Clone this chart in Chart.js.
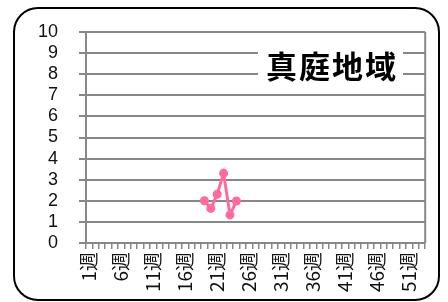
<!DOCTYPE html>
<html>
<head>
<meta charset="utf-8">
<script src="https://cdn.jsdelivr.net/npm/chart.js@4"></script>
<style>
  html, body { margin: 0; padding: 0; background: #fff; }
  #wrap { width: 448px; height: 302px; }
</style>
</head>
<body>
<div id="wrap"><canvas id="chart" width="448" height="302"></canvas></div>
<script>
const TITLE = "真庭地域";
const WEEKS = Array.from({ length: 53 }, (_, i) => (i + 1) + "週");
const SHOWN_LABELS = ["1週", "6週", "11週", "16週", "21週", "26週", "31週", "36週", "41週", "46週", "51週"];
// values per week (null = no data)
const VALUES = [
  null, null, null, null, null, null, null, null, null, null,
  null, null, null, null, null, null, null, null, 2.0, 1.64,
  2.31, 3.3, 1.33, 1.99, null, null, null, null, null, null,
  null, null, null, null, null, null, null, null, null, null,
  null, null, null, null, null, null, null, null, null, null,
  null, null, null,
];
const Y_TICKS = [0, 1, 2, 3, 4, 5, 6, 7, 8, 9, 10];

const GRID = "#878787";
const PINK = "#ff6b9c";

// rounded outer frame + boxed title inside the plot
const decor = {
  id: "decor",
  beforeDraw(chart) {
    const c = chart.ctx;
    c.save();
    c.fillStyle = "#fff";
    c.fillRect(0, 0, chart.width, chart.height);
    c.strokeStyle = "#000";
    c.lineWidth = 2;
    c.beginPath();
    c.roundRect(14, 8, 425, 292, 24);
    c.stroke();
    c.restore();
  },
  afterDraw(chart) {
    const c = chart.ctx;
    c.save();
    c.fillStyle = "#fff";
    c.fillRect(258, 45, 145, 40);
    c.font = "bold 31px 'Noto Sans CJK JP'";
    c.letterSpacing = "2px";
    c.fillStyle = "#000";
    c.textAlign = "center";
    c.textBaseline = "middle";
    c.fillText(TITLE, 332, 66);
    c.restore();
  },
};

new Chart(document.getElementById("chart"), {
  type: "line",
  data: {
    labels: WEEKS,
    datasets: [{
      data: VALUES,
      borderColor: PINK,
      backgroundColor: PINK,
      borderWidth: 3,
      pointRadius: 4.5,
      pointBackgroundColor: PINK,
      pointBorderWidth: 0,
      tension: 0,
      spanGaps: false,
    }],
  },
  options: {
    responsive: false,
    animation: false,
    layout: { padding: { left: 20, right: 21, top: 32, bottom: 4 } },
    plugins: { legend: { display: false }, tooltip: { enabled: false } },
    scales: {
      x: {
        offset: true,
        grid: {
          offset: true,
          drawOnChartArea: false,
          color: GRID,
          lineWidth: 1.5,
          tickLength: 6,
          tickColor: GRID,
        },
        border: { color: GRID, width: 2 },
        afterFit: (s) => { s.height = 302 - 243 - 4; },
        ticks: {
          autoSkip: false,
          minRotation: 90,
          maxRotation: 90,
          color: "#111",
          padding: 3,
          font: { family: "'Noto Sans CJK JP'", size: 19 },
          callback: function (val) {
            const l = this.getLabelForValue(val);
            return SHOWN_LABELS.includes(l) ? l : "";
          },
        },
      },
      y: {
        min: 0,
        max: 10,
        afterBuildTicks: (s) => { s.ticks = Y_TICKS.map(v => ({ value: v })); },
        afterFit: (s) => { s.width = 86 - 20; },
        grid: { color: GRID, lineWidth: 2, tickLength: 7 },
        border: { color: GRID, width: 2 },
        ticks: {
          autoSkip: false,
          color: "#111",
          padding: 21,
          font: { family: "'Liberation Sans'", size: 18 },
        },
      },
    },
  },
  plugins: [decor, {
    id: "rightEdge",
    afterDraw(chart) {
      const a = chart.chartArea, c = chart.ctx;
      c.save();
      c.strokeStyle = GRID;
      c.lineWidth = 2;
      c.beginPath();
      c.moveTo(a.right, a.top);
      c.lineTo(a.right, a.bottom);
      c.stroke();
      c.restore();
    },
  }],
});
</script>
</body>
</html>
